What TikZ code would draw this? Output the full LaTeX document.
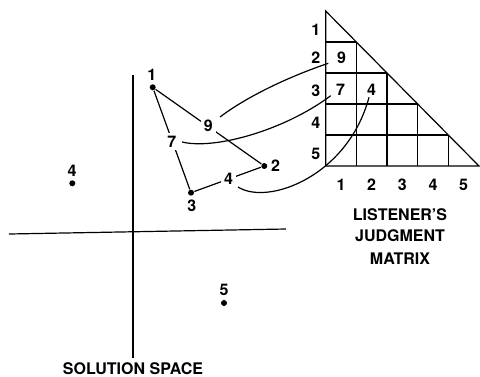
\documentclass[tikz,border=0pt]{standalone}
\usepackage{fontspec}
\setmainfont{TeX Gyre Heros}
\begin{document}
\begin{tikzpicture}[x=1pt,y=-1pt,line width=1.2pt,
  num/.style={font=\fontsize{16}{18}\selectfont\bfseries,inner sep=1.5pt,anchor=base},
  elabel/.style={num,fill=white,inner sep=3pt},
  dotpt/.style={circle,fill=black,inner sep=0pt,minimum size=6pt},
  caption/.style={font=\fontsize{16}{19.5}\selectfont\bfseries,inner sep=0pt,anchor=base}]
\useasboundingbox (0,0) rectangle (480,376);
% axes
\coordinate (vt) at (133,75);
\coordinate (vb) at (133,358);
\coordinate (hl) at (9,234);
\coordinate (hr) at (286,229);
\draw (vt) -- (vb);
\draw (hl) -- (hr);
\node[caption] (sol) at (133,374) {SOLUTION SPACE};
% isolated points
\node[dotpt] (q4) at (72.3,183.3) {};
\node[num] (q4l) at (72,176.7) {4};
\node[dotpt] (q5) at (224,303) {};
\node[num] (q5l) at (224,295) {5};
% polygon
\node[dotpt] (p1) at (152.7,87.3) {};
\node[dotpt] (p2) at (264.3,166) {};
\node[dotpt] (p3) at (191,192.7) {};
\node[num] (p1l) at (151.7,80) {1};
\node[num] (p2l) at (275.5,171.7) {2};
\node[num] (p3l) at (191.7,211.7) {3};
\draw (p1) -- (p2);
\draw (p1) -- (p3);
\draw (p3) -- (p2);
\node[elabel] (e12) at (208.3,131.7) {9};
\node[elabel] (e13) at (171.7,147.3) {7};
\node[elabel] (e23) at (228.5,184) {4};
% matrix
\def\cw{30.66}
\def\ch{31}
\coordinate (tA) at (325.7,11);
\coordinate (tB) at (325.7,166);
\coordinate (tC) at (479,166);
\draw (tA) -- (tB) -- (tC) -- cycle;
\foreach \k in {1,...,4}{
  \draw (325.7,{11+\ch*\k}) -- ({325.7+\cw*\k},{11+\ch*\k});
  \draw ({325.7+\cw*\k},{11+\ch*\k}) -- ({325.7+\cw*\k},166);
}
\foreach \k/\yb in {1/35,2/63.5,3/96.5,4/128.3,5/159.3}{
  \node[num] (r\k) at (315.7,\yb) {\k};
}
\foreach \k in {1,...,5}{
  \node[num] (c\k) at ({341+\cw*(\k-1)},190) {\k};
}
\node[num] (m9) at (341.5,63.3) {9};
\node[num] (m7) at (340.5,95.7) {7};
\node[num] (m4) at (371.5,95) {4};
\coordinate (m9end) at (328.3,63.3);
\coordinate (m7end) at (330.7,95.7);
\coordinate (m4end) at (369,97.3);
\coordinate (e12s) at (220,117);
\coordinate (e13s) at (182,142);
\coordinate (e23s) at (238,187);
% connecting curves
\draw (e12s) .. controls (245,98) and (285,78) .. (m9end);
\draw (e13s) .. controls (215,150) and (285,130) .. (m7end);
\draw (e23s) .. controls (268,206) and (348,176) .. (m4end);
\node[caption] (lab1) at (400,220) {LISTENER'S};
\node[caption] (lab2) at (400,241.7) {JUDGMENT};
\node[caption] (lab3) at (400,264.3) {MATRIX};
\end{tikzpicture}
\end{document}
